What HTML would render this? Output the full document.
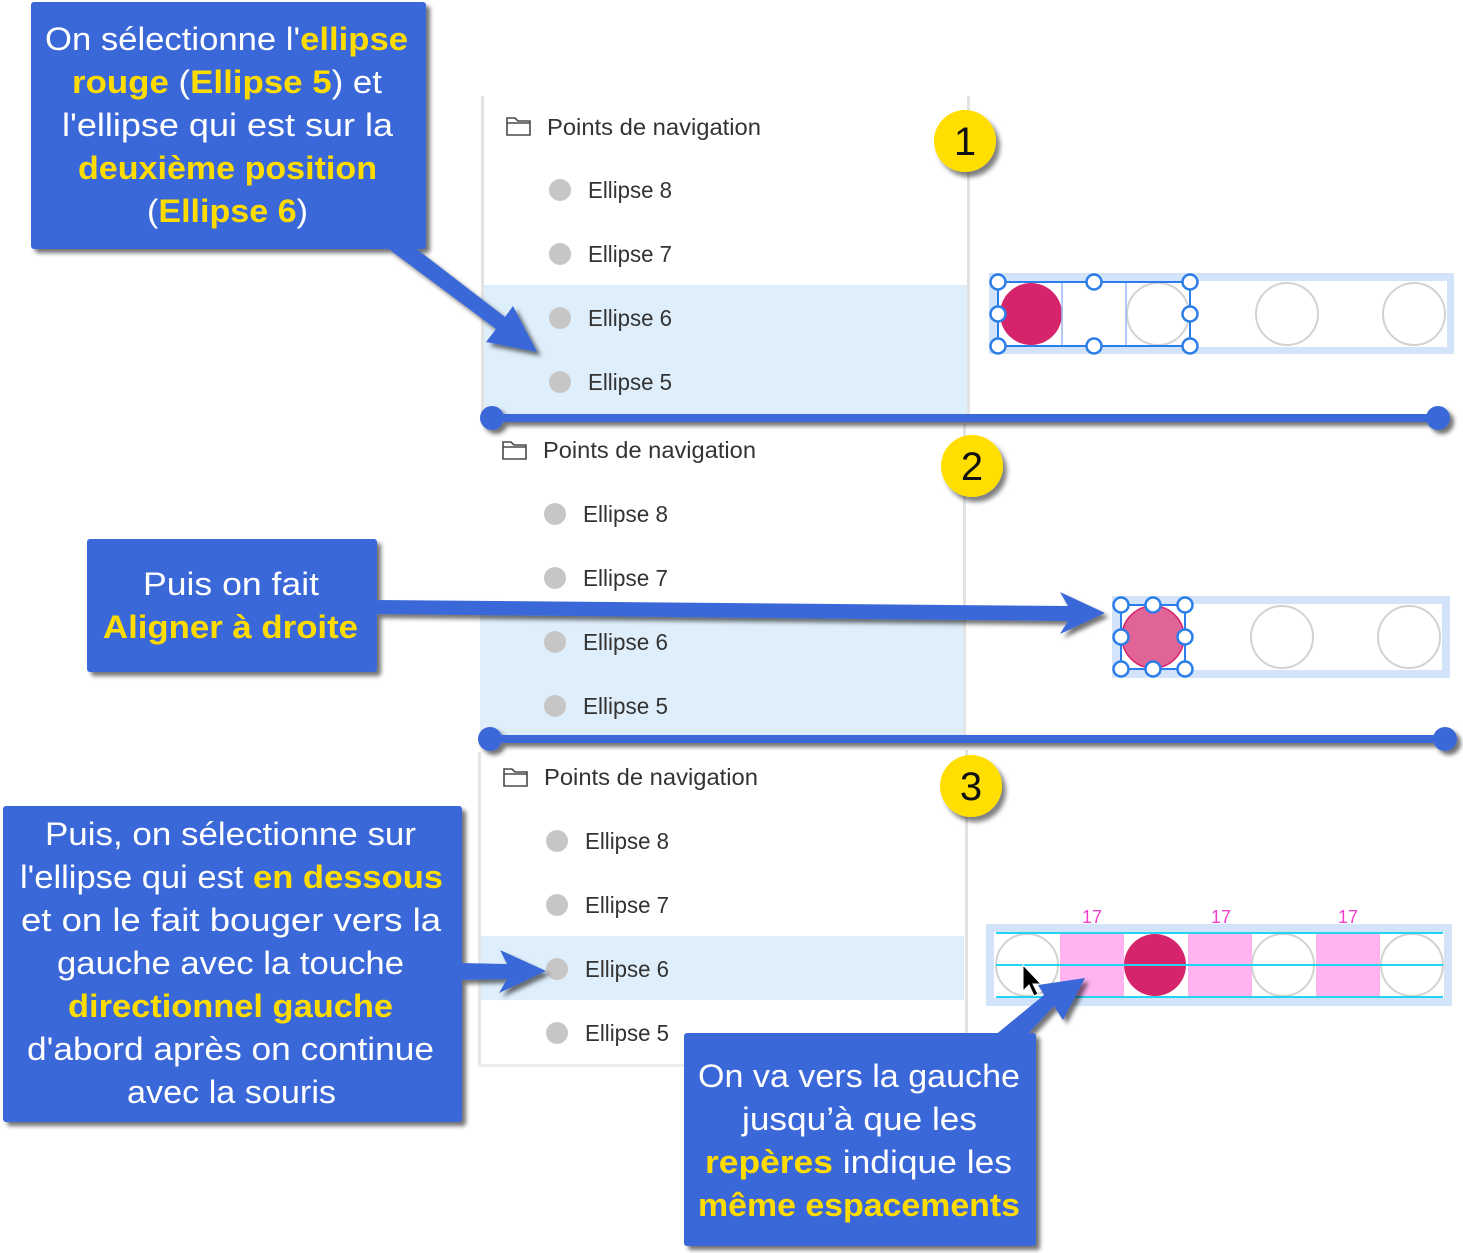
<!DOCTYPE html>
<html><head><meta charset="utf-8">
<style>
html,body{margin:0;padding:0;background:#fff;}
svg{display:block;}
.pt{font-family:"Liberation Sans",sans-serif;font-size:23px;fill:#333;}
.co{font-family:"Liberation Sans",sans-serif;font-size:32px;fill:#fff;}
.y{font-weight:bold;fill:#ffdc00;}
.num{font-family:"Liberation Sans",sans-serif;font-size:40px;fill:#111;text-anchor:middle;}
.s17{font-family:"Liberation Sans",sans-serif;font-size:18px;fill:#f040cf;text-anchor:middle;}
</style></head>
<body>
<svg width="1463" height="1253" viewBox="0 0 1463 1253" xmlns="http://www.w3.org/2000/svg">
<defs>
<filter id="sh" x="-10%" y="-10%" width="130%" height="140%">
<feDropShadow dx="4" dy="4" stdDeviation="2" flood-color="#000" flood-opacity="0.55"/>
</filter>
<filter id="shb" x="-30%" y="-30%" width="170%" height="170%">
<feDropShadow dx="4" dy="5" stdDeviation="2.5" flood-color="#000" flood-opacity="0.5"/>
</filter>
<g id="folder">
<path d="M1,2 h8 l3,3 h12 v14 h-23 z M1,7 h23" fill="none" stroke="#4a4a4a" stroke-width="1.6"/>
</g>
</defs>

<!-- ============ PANEL 1 ============ -->
<rect x="482" y="285" width="486" height="130" fill="#deeefa"/>
<rect x="481" y="96" width="3" height="319" fill="#e3e3e3"/>
<rect x="967" y="96" width="3" height="319" fill="#e3e3e3"/>
<use href="#folder" x="506" y="116"/>
<text class="pt" x="547" y="135" textLength="214" lengthAdjust="spacingAndGlyphs">Points de navigation</text>
<circle cx="560" cy="190" r="11" fill="#c6c6c6"/>
<circle cx="560" cy="254" r="11" fill="#c6c6c6"/>
<circle cx="560" cy="318" r="11" fill="#c6c6c6"/>
<circle cx="560" cy="382" r="11" fill="#c6c6c6"/>
<text class="pt" x="588" y="198" textLength="84" lengthAdjust="spacingAndGlyphs">Ellipse 8</text>
<text class="pt" x="588" y="262" textLength="84" lengthAdjust="spacingAndGlyphs">Ellipse 7</text>
<text class="pt" x="588" y="326" textLength="84" lengthAdjust="spacingAndGlyphs">Ellipse 6</text>
<text class="pt" x="588" y="390" textLength="84" lengthAdjust="spacingAndGlyphs">Ellipse 5</text>

<!-- Row 1 -->
<rect x="989" y="273" width="465" height="81" fill="#d3e4fa"/>
<rect x="997" y="281" width="450" height="66" fill="#fff"/>
<circle cx="1031" cy="314" r="31" fill="#d6246c"/>
<circle cx="1158" cy="314" r="31" fill="none" stroke="#d2d2d2" stroke-width="2"/>
<circle cx="1287" cy="314" r="31" fill="none" stroke="#d2d2d2" stroke-width="2"/>
<circle cx="1414" cy="314" r="31" fill="none" stroke="#d2d2d2" stroke-width="2"/>
<line x1="1062" y1="282" x2="1062" y2="346" stroke="#9ab8f0" stroke-width="1.5"/>
<line x1="1126" y1="282" x2="1126" y2="346" stroke="#9ab8f0" stroke-width="1.5"/>
<rect x="998" y="282" width="192" height="64" fill="none" stroke="#2b7de9" stroke-width="2"/>
<g fill="#fff" stroke="#2b7de9" stroke-width="2.5">
<circle cx="998" cy="282" r="7.5"/><circle cx="1094" cy="282" r="7.5"/><circle cx="1190" cy="282" r="7.5"/>
<circle cx="998" cy="314" r="7.5"/><circle cx="1190" cy="314" r="7.5"/>
<circle cx="998" cy="346" r="7.5"/><circle cx="1094" cy="346" r="7.5"/><circle cx="1190" cy="346" r="7.5"/>
</g>

<!-- ============ PANEL 2 ============ -->
<rect x="480" y="610" width="484" height="130" fill="#deeefa"/>
<rect x="963" y="424" width="3" height="316" fill="#e3e3e3"/>
<use href="#folder" x="502" y="440"/>
<text class="pt" x="543" y="458" textLength="213" lengthAdjust="spacingAndGlyphs">Points de navigation</text>
<circle cx="555" cy="514" r="11" fill="#c6c6c6"/>
<circle cx="555" cy="578" r="11" fill="#c6c6c6"/>
<circle cx="555" cy="642" r="11" fill="#c6c6c6"/>
<circle cx="555" cy="706" r="11" fill="#c6c6c6"/>
<text class="pt" x="583" y="522" textLength="85" lengthAdjust="spacingAndGlyphs">Ellipse 8</text>
<text class="pt" x="583" y="586" textLength="85" lengthAdjust="spacingAndGlyphs">Ellipse 7</text>
<text class="pt" x="583" y="650" textLength="85" lengthAdjust="spacingAndGlyphs">Ellipse 6</text>
<text class="pt" x="583" y="714" textLength="85" lengthAdjust="spacingAndGlyphs">Ellipse 5</text>

<!-- Row 2 -->
<rect x="1112" y="596" width="338" height="82" fill="#d3e4fa"/>
<rect x="1120" y="604" width="322" height="66" fill="#fff"/>
<circle cx="1153" cy="637" r="31" fill="#e06496" stroke="#d6246c" stroke-width="1.5"/>
<circle cx="1282" cy="637" r="31" fill="none" stroke="#d2d2d2" stroke-width="2"/>
<circle cx="1409" cy="637" r="31" fill="none" stroke="#d2d2d2" stroke-width="2"/>
<rect x="1121" y="605" width="64" height="64" fill="none" stroke="#2b7de9" stroke-width="2"/>
<g fill="#fff" stroke="#2b7de9" stroke-width="2.5">
<circle cx="1121" cy="605" r="7.5"/><circle cx="1153" cy="605" r="7.5"/><circle cx="1185" cy="605" r="7.5"/>
<circle cx="1121" cy="637" r="7.5"/><circle cx="1185" cy="637" r="7.5"/>
<circle cx="1121" cy="669" r="7.5"/><circle cx="1153" cy="669" r="7.5"/><circle cx="1185" cy="669" r="7.5"/>
</g>

<!-- ============ PANEL 3 ============ -->
<rect x="480" y="936" width="484" height="64" fill="#deeefa"/>
<rect x="478" y="752" width="3" height="315" fill="#e6e6e6"/>
<rect x="478" y="1064" width="490" height="3" fill="#ececec"/>
<rect x="965" y="750" width="3" height="317" fill="#e3e3e3"/>
<use href="#folder" x="503" y="767"/>
<text class="pt" x="544" y="785" textLength="214" lengthAdjust="spacingAndGlyphs">Points de navigation</text>
<circle cx="557" cy="841" r="11" fill="#c6c6c6"/>
<circle cx="557" cy="905" r="11" fill="#c6c6c6"/>
<circle cx="557" cy="969" r="11" fill="#c6c6c6"/>
<circle cx="557" cy="1033" r="11" fill="#c6c6c6"/>
<text class="pt" x="585" y="849" textLength="84" lengthAdjust="spacingAndGlyphs">Ellipse 8</text>
<text class="pt" x="585" y="913" textLength="84" lengthAdjust="spacingAndGlyphs">Ellipse 7</text>
<text class="pt" x="585" y="977" textLength="84" lengthAdjust="spacingAndGlyphs">Ellipse 6</text>
<text class="pt" x="585" y="1041" textLength="84" lengthAdjust="spacingAndGlyphs">Ellipse 5</text>

<!-- Row 3 -->
<rect x="986" y="924" width="466" height="82" fill="#d3e4fa"/>
<rect x="994" y="932" width="450" height="66" fill="#fff"/>
<rect x="1060" y="933" width="64" height="64" fill="#ffb4f1"/>
<rect x="1188" y="933" width="64" height="64" fill="#ffb4f1"/>
<rect x="1316" y="933" width="64" height="64" fill="#ffb4f1"/>
<circle cx="1027" cy="965" r="31" fill="none" stroke="#d2d2d2" stroke-width="2"/>
<circle cx="1155" cy="965" r="31" fill="#d6246c"/>
<circle cx="1283" cy="965" r="31" fill="none" stroke="#d2d2d2" stroke-width="2"/>
<circle cx="1412" cy="965" r="31" fill="none" stroke="#d2d2d2" stroke-width="2"/>
<g stroke="#22d4f2" stroke-width="2">
<line x1="996" y1="933" x2="1443" y2="933"/>
<line x1="996" y1="965" x2="1443" y2="965"/>
<line x1="996" y1="997" x2="1443" y2="997"/>
</g>
<text class="s17" x="1092" y="923">17</text>
<text class="s17" x="1221" y="923">17</text>
<text class="s17" x="1348" y="923">17</text>
<!-- cursor -->
<path d="M1023,965 L1023,991 L1029,985 L1034,996 L1038,994 L1033,984 L1041,984 Z" fill="#000" stroke="#fff" stroke-width="1"/>

<!-- ============ SLIDERS ============ -->
<g filter="url(#sh)" fill="#3a68d8">
<rect x="492" y="414" width="946" height="8"/>
<circle cx="492" cy="418" r="12"/>
<circle cx="1438" cy="418" r="12"/>
<rect x="490" y="735" width="955" height="8"/>
<circle cx="490" cy="739" r="12"/>
<circle cx="1445" cy="739" r="12"/>
</g>

<!-- ============ BADGES ============ -->
<g filter="url(#shb)" fill="#ffde00">
<circle cx="965" cy="141" r="31"/>
<circle cx="972" cy="466" r="31"/>
<circle cx="971" cy="786" r="31"/>
</g>
<text class="num" x="965" y="155">1</text>
<text class="num" x="972" y="480">2</text>
<text class="num" x="971" y="800">3</text>

<!-- ============ CALLOUTS & ARROWS ============ -->
<g filter="url(#sh)" fill="#3a68d8">
<rect x="31" y="2" width="395" height="247" rx="3"/>
<polygon points="386,247 414,247 505,317 513,306 537,352 486,342 496,329"/>

<rect x="87" y="539" width="290" height="133" rx="3"/>
<polygon points="375,600 1068,606 1060,592 1105,613 1060,634 1068,621 375,614"/>

<rect x="3" y="806" width="459" height="316" rx="3"/>
<polygon points="460,963 507,964 500,950 546,971 499,993 507,979 460,980"/>

<rect x="684" y="1033" width="352" height="213" rx="3"/>
<polygon points="994,1036 1044,995 1038,985 1085,978 1063,1020 1054,1006 1026,1036"/>
</g>

<!-- Callout 1 text -->
<text class="co" x="45" y="50" textLength="363" lengthAdjust="spacingAndGlyphs">On sélectionne l'<tspan class="y">ellipse</tspan></text>
<text class="co" x="72" y="93" textLength="310" lengthAdjust="spacingAndGlyphs"><tspan class="y">rouge</tspan> (<tspan class="y">Ellipse 5</tspan>) et</text>
<text class="co" x="62" y="136" textLength="331" lengthAdjust="spacingAndGlyphs">l'ellipse qui est sur la</text>
<text class="co" x="78" y="179" textLength="299" lengthAdjust="spacingAndGlyphs"><tspan class="y">deuxième position</tspan></text>
<text class="co" x="147" y="222" textLength="161" lengthAdjust="spacingAndGlyphs">(<tspan class="y">Ellipse 6</tspan>)</text>

<!-- Callout 2 text -->
<text class="co" x="143" y="595" textLength="176" lengthAdjust="spacingAndGlyphs">Puis on fait</text>
<text class="co" x="103" y="638" textLength="255" lengthAdjust="spacingAndGlyphs"><tspan class="y">Aligner à droite</tspan></text>

<!-- Callout 3 text -->
<text class="co" x="45" y="845" textLength="371" lengthAdjust="spacingAndGlyphs">Puis, on sélectionne sur</text>
<text class="co" x="20" y="888" textLength="423" lengthAdjust="spacingAndGlyphs">l'ellipse qui est <tspan class="y">en dessous</tspan></text>
<text class="co" x="21" y="931" textLength="420" lengthAdjust="spacingAndGlyphs">et on le fait bouger vers la</text>
<text class="co" x="57" y="974" textLength="347" lengthAdjust="spacingAndGlyphs">gauche avec la touche</text>
<text class="co" x="68" y="1017" textLength="325" lengthAdjust="spacingAndGlyphs"><tspan class="y">directionnel gauche</tspan></text>
<text class="co" x="27" y="1060" textLength="407" lengthAdjust="spacingAndGlyphs">d'abord après on continue</text>
<text class="co" x="127" y="1103" textLength="209" lengthAdjust="spacingAndGlyphs">avec la souris</text>

<!-- Callout 4 text -->
<text class="co" x="698" y="1087" textLength="322" lengthAdjust="spacingAndGlyphs">On va vers la gauche</text>
<text class="co" x="742" y="1130" textLength="235" lengthAdjust="spacingAndGlyphs">jusqu’à que les</text>
<text class="co" x="705" y="1173" textLength="307" lengthAdjust="spacingAndGlyphs"><tspan class="y">repères</tspan> indique les</text>
<text class="co" x="698" y="1216" textLength="322" lengthAdjust="spacingAndGlyphs"><tspan class="y">même espacements</tspan></text>
</svg>
</body></html>
